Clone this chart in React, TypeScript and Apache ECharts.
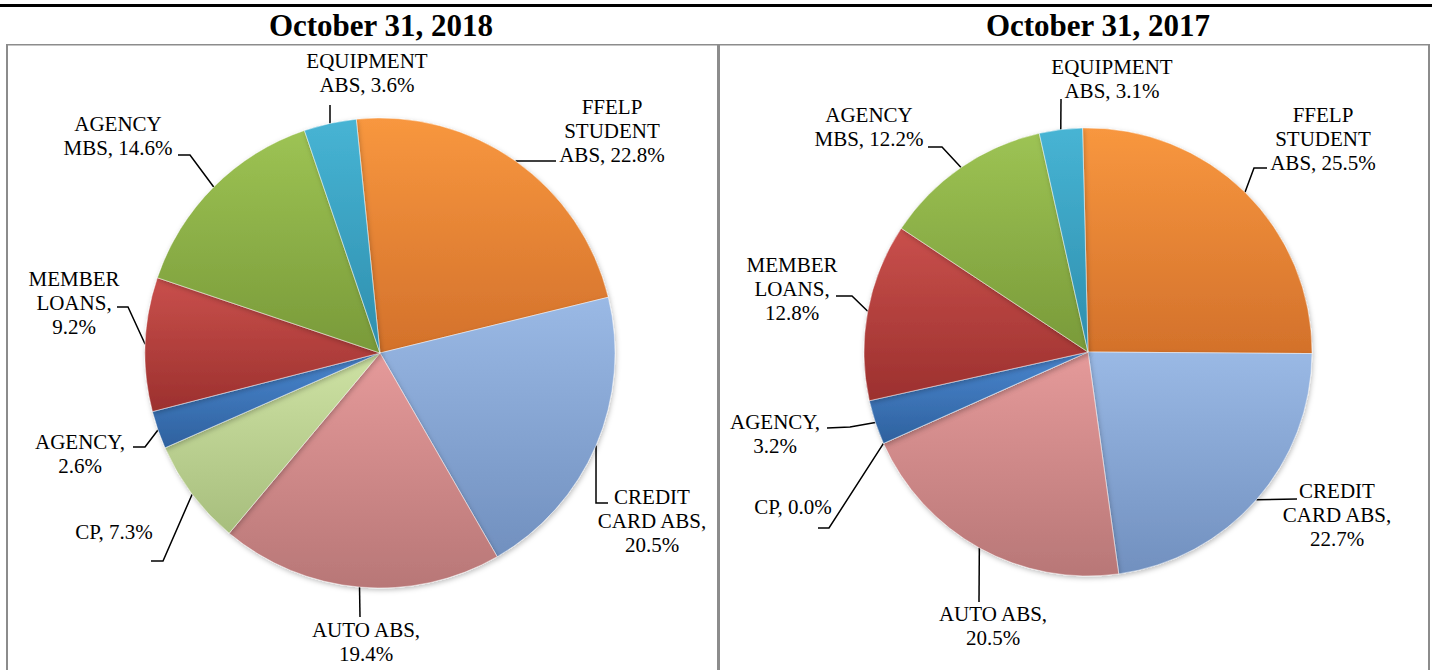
import React, { useEffect, useRef } from "react";
import * as echarts from "echarts";

// ---------- data ----------
const categories = [
  "FFELP STUDENT ABS",
  "CREDIT CARD ABS",
  "AUTO ABS",
  "CP",
  "AGENCY",
  "MEMBER LOANS",
  "AGENCY MBS",
  "EQUIPMENT ABS",
];
const values2018 = [22.8, 20.5, 19.4, 7.3, 2.6, 9.2, 14.6, 3.6];
const values2017 = [25.5, 22.7, 20.5, 0.0, 3.2, 12.8, 12.2, 3.1];
const panelTitles = ["October 31, 2018", "October 31, 2017"];
// how each category's label wraps; {v} is the value
const labelTemplates = [
  "FFELP\nSTUDENT\nABS, {v}%",
  "CREDIT\nCARD ABS,\n{v}%",
  "AUTO ABS,\n{v}%",
  "CP, {v}%",
  "AGENCY,\n{v}%",
  "MEMBER\nLOANS,\n{v}%",
  "AGENCY\nMBS, {v}%",
  "EQUIPMENT\nABS, {v}%",
];

// ---------- styles ----------
const topColors = ["#F8973F", "#9AB9E5", "#E59A9A", "#CEE2A4", "#4A86CF", "#C9504C", "#9DC354", "#47B4D4"];
const bottomColors = ["#D3712B", "#7190BF", "#B87777", "#A7BE7D", "#2E619E", "#9C302E", "#799A39", "#2E8EAD"];

// ---------- layout ----------
const centers = [[380, 353], [1088, 352]];
const radii = [235, 224];
const startAngles = [95.8, 91.4];
// label anchor: [center x, top y of first line]
const labelPos = [
  [[612, 100], [652, 490], [366, 623], [114, 525], [80, 435], [74, 272], [118, 117], [367, 54]],
  [[1323, 108], [1337, 484], [993, 607], [793, 500], [775, 415], [792, 258], [869, 108], [1112, 60]],
];
// leader line points after the slice edge point
const leaders = [
  [
    [[556, 161]],
    [[596, 503], [608, 503]],
    [[360, 617]],
    [[163, 561], [151, 561]],
    [[145, 447], [133, 447]],
    [[128, 307], [117, 307]],
    [[190, 155], [178, 155]],
    [[330, 105]],
  ],
  [
    [[1254, 168], [1267, 168]],
    [[1297, 499]],
    [[979, 602]],
    [[829, 528], [818, 528]],
    [[850, 427], [827, 428]],
    [[852, 296], [836, 296]],
    [[942, 147], [928, 147]],
    [[1061, 99]],
  ],
];

const FONT = '"Liberation Serif", "Times New Roman", serif';

function makeSeries(k: number, values: number[]) {
  return {
    type: "pie",
    center: centers[k],
    radius: radii[k],
    startAngle: startAngles[k],
    clockwise: true,
    avoidLabelOverlap: false,
    silent: true,
    data: categories.map((name, i) => ({
      name,
      value: values[i],
      itemStyle: {
        color: new echarts.graphic.LinearGradient(0, 0, 0, 1, [
          { offset: 0, color: topColors[i] },
          { offset: 1, color: bottomColors[i] },
        ]),
      },
    })),
    itemStyle: {
      borderColor: "rgba(255,255,255,0.45)",
      borderWidth: 1,
      shadowBlur: 5,
      shadowOffsetX: 1,
      shadowOffsetY: 2,
      shadowColor: "rgba(0,0,0,0.25)",
    },
    label: {
      show: true,
      position: "outside",
      formatter: (p: any) => labelTemplates[p.dataIndex].replace("{v}", Number(p.value).toFixed(1)),
      fontFamily: FONT,
      fontSize: 21,
      lineHeight: 24,
      color: "#000",
      align: "center",
    },
    labelLine: {
      show: true,
      length: 10,
      length2: 10,
      smooth: false,
      lineStyle: { color: "#000", width: 1.5 },
    },
    labelLayout: (params: any) => {
      const i = params.dataIndex;
      const pos = labelPos[k][i];
      const pts = params.labelLinePoints;
      const out: any = { x: pos[0], y: pos[1] - 5, align: "center", verticalAlign: "top" };
      if (pts && pts.length) {
        out.labelLinePoints = [pts[0], ...leaders[k][i]];
      }
      return out;
    },
  };
}

export default function App() {
  const ref = useRef<HTMLDivElement>(null);
  useEffect(() => {
    if (!ref.current) return;
    const chart = echarts.init(ref.current, null, { renderer: "svg" });
    const border = "#8c8c8c";
    chart.setOption({
      animation: false,
      backgroundColor: "#fff",
      graphic: [
        { type: "rect", shape: { x: 0, y: 4, width: 1432, height: 3 }, style: { fill: "#000" }, silent: true },
        { type: "rect", shape: { x: 6, y: 44, width: 1424, height: 1.5 }, style: { fill: border }, silent: true },
        { type: "rect", shape: { x: 6, y: 44, width: 2, height: 640 }, style: { fill: border }, silent: true },
        { type: "rect", shape: { x: 717, y: 44, width: 3, height: 640 }, style: { fill: border }, silent: true },
        { type: "rect", shape: { x: 1428, y: 44, width: 2, height: 640 }, style: { fill: border }, silent: true },
        {
          type: "text",
          x: 381,
          y: 25.5,
          silent: true,
          style: {
            text: panelTitles[0],
            fontFamily: FONT,
            fontSize: 31,
            fontWeight: "bold",
            fill: "#000",
            textAlign: "center",
            textVerticalAlign: "middle",
          },
        },
        {
          type: "text",
          x: 1098,
          y: 25.5,
          silent: true,
          style: {
            text: panelTitles[1],
            fontFamily: FONT,
            fontSize: 31,
            fontWeight: "bold",
            fill: "#000",
            textAlign: "center",
            textVerticalAlign: "middle",
          },
        },
      ],
      series: [makeSeries(0, values2018), makeSeries(1, values2017)],
    });
    return () => chart.dispose();
  }, []);
  return (
    <div
      ref={ref}
      style={{ position: "absolute", left: 0, top: 0, width: 1432, height: 670, background: "#fff" }}
    />
  );
}
